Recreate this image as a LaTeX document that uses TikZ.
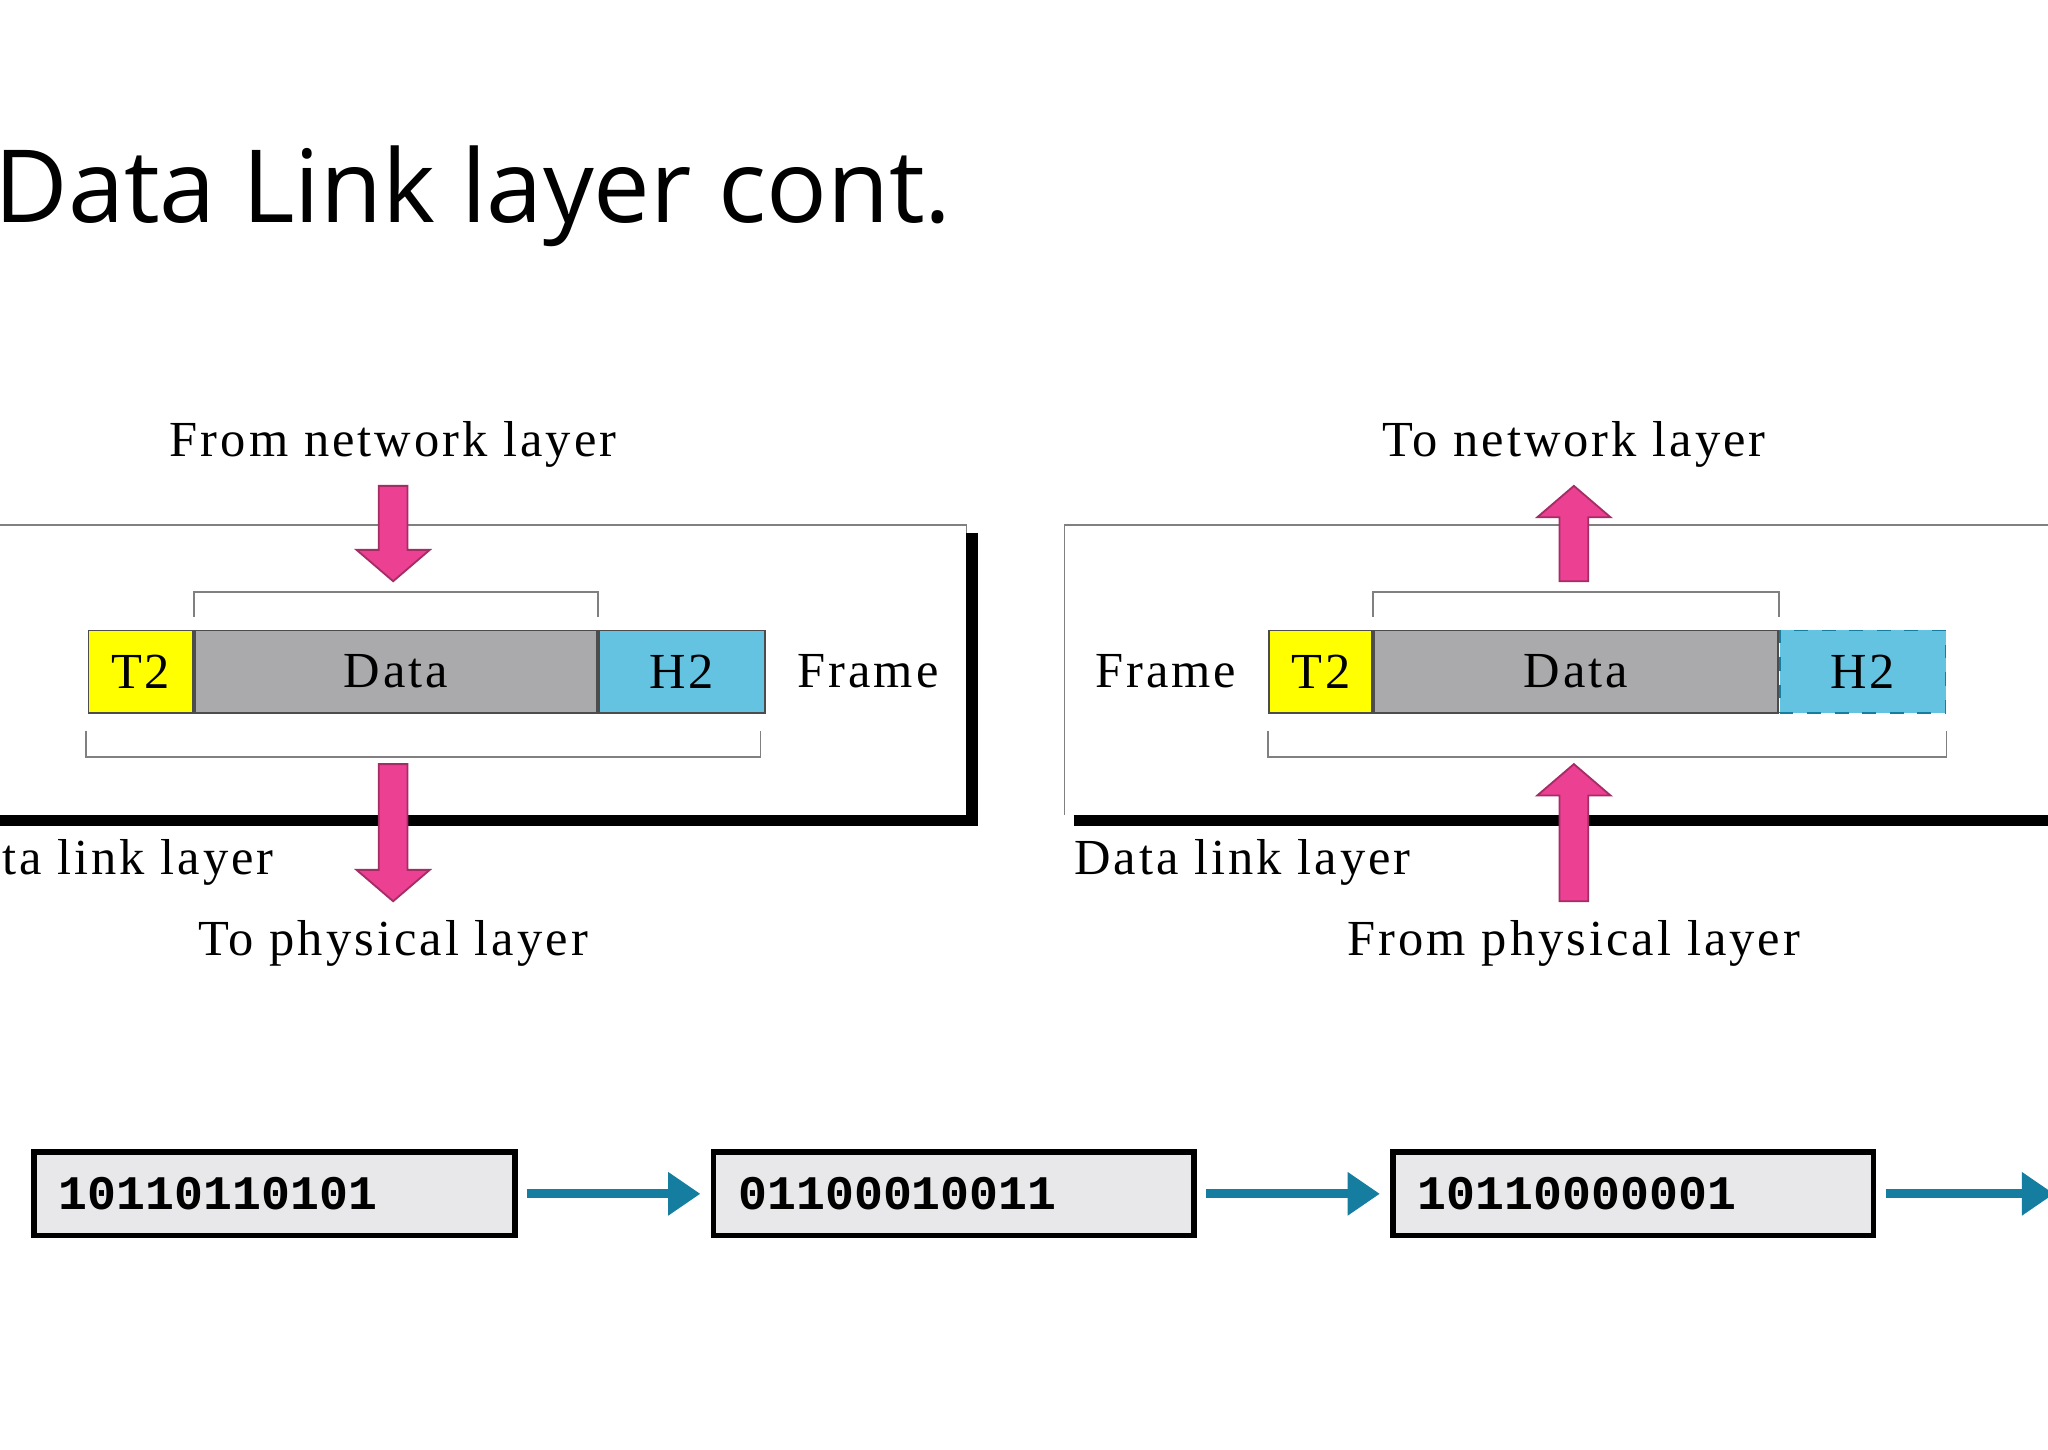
\documentclass[tikz,border=0pt]{standalone}
\usepackage{fontspec}
\setmainfont{Liberation Serif}[LetterSpace=6]
\newfontfamily\titlefont{Open Sans}
\newfontfamily\bitfont{Liberation Mono}
\usetikzlibrary{positioning,calc,arrows.meta}
\definecolor{tyellow}{RGB}{255,255,0}
\definecolor{tgray}{RGB}{170,170,172}
\definecolor{tcyan}{RGB}{100,195,225}
\definecolor{tpink}{RGB}{236,64,146}
\definecolor{tteal}{RGB}{20,125,160}
\definecolor{tbits}{RGB}{232,232,234}
\tikzset{
  fld/.style={draw=black!70, minimum height=0.63cm, inner sep=0pt, font=\fontsize{11}{12}\selectfont},
  lbl/.style={font=\fontsize{11}{12}\selectfont},
  bits/.style={draw, very thick, fill=tbits, minimum width=3.68cm, minimum height=0.64cm, inner sep=0pt,
    text width=3.3cm, font=\bitfont\bfseries\fontsize{10.5}{12}\selectfont},
  pk/.style={fill=tpink, draw=tpink!70!black, thin},
  bitarrow/.style={draw=tteal, line width=2pt, -{Triangle[length=7pt,width=9pt]}}
}
% pink block arrow, from #1 to #2
\newcommand{\blockarrow}[2]{%
  \path[pk] let \p1=(#1), \p2=(#2), \n1={(\y2>\y1 ? 1 : -1)} in
    (\x1-0.11cm,\y1) -- (\x1-0.11cm,\y2-\n1*0.24cm) -- (\x1-0.28cm,\y2-\n1*0.24cm) -- (\x2,\y2)
    -- (\x1+0.28cm,\y2-\n1*0.24cm) -- (\x1+0.11cm,\y2-\n1*0.24cm) -- (\x1+0.11cm,\y1) -- cycle;}
\begin{document}
\begin{tikzpicture}
\useasboundingbox[fill=white] (0,0) rectangle (15.68,11.10);

\node[anchor=base west, inner sep=0pt, font=\titlefont\fontsize{22}{26}\selectfont] (title) at (-0.05,9.40) {Data Link layer cont.};

%% sender side
\draw[gray, thin] (-0.1,7.08) -- (7.40,7.08) -- (7.40,4.82);
\draw[line width=2.5pt] (7.44,7.02) -- (7.44,4.82) -- (-0.1,4.82);
\node[fld, fill=tyellow, minimum width=0.80cm, anchor=north west] (t2a) at (0.67,6.28) {T2};
\node[fld, fill=tgray, minimum width=3.08cm, right=0pt of t2a] (dataa) {Data};
\node[fld, fill=tcyan, minimum width=1.27cm, right=0pt of dataa] (h2a) {H2};
\node[lbl, right=0.12cm of h2a] (framea) {Frame};
\draw[gray] ($(dataa.north west)+(0,0.1)$) -- ++(0,0.19) -| ($(dataa.north east)+(0,0.1)$);
\draw[gray] ($(t2a.south west)+(-0.01,-0.13)$) -- ++(0,-0.2) -| ($(h2a.south east)+(-0.04,-0.13)$);
\node[lbl] (fromnet) at (3.01,7.70) {From network layer};
\node[lbl] (tophy) at (3.01,3.88) {To physical layer};
\node[lbl, anchor=east] (dlla) at (2.22,4.50) {Data link layer};
\coordinate (a1) at (3.01,7.38);
\coordinate (a2) at (3.01,6.65);
\coordinate (a3) at (3.01,5.25);
\coordinate (a4) at (3.01,4.20);
\blockarrow{a1}{a2}
\blockarrow{a3}{a4}

%% receiver side
\draw[gray, thin] (15.8,7.08) -- (8.15,7.08) -- (8.15,4.86);
\draw[line width=2.5pt] (8.22,4.82) -- (15.8,4.82);
\node[fld, fill=tyellow, minimum width=0.79cm, anchor=north west] (t2b) at (9.71,6.28) {T2};
\node[fld, fill=tgray, minimum width=3.09cm, right=0pt of t2b] (datab) {Data};
\node[fld, fill=tcyan, draw=tteal, dashed, minimum width=1.27cm, right=0pt of datab] (h2b) {H2};
\node[lbl, left=0.12cm of t2b] (frameb) {Frame};
\draw[gray] ($(datab.north west)+(0,0.1)$) -- ++(0,0.19) -| ($(datab.north east)+(0,0.1)$);
\draw[gray] ($(t2b.south west)+(0,-0.13)$) -- ++(0,-0.2) -| ($(h2b.south east)+(0,-0.13)$);
\node[lbl] (tonet) at (12.05,7.70) {To network layer};
\node[lbl] (fromphy) at (12.05,3.88) {From physical layer};
\node[lbl, anchor=west] (dllb) at (8.10,4.50) {Data link layer};
\coordinate (b1) at (12.05,6.65);
\coordinate (b2) at (12.05,7.38);
\coordinate (b3) at (12.05,4.20);
\coordinate (b4) at (12.05,5.25);
\blockarrow{b1}{b2}
\blockarrow{b3}{b4}

%% bit stream
\node[bits, anchor=west] (bits1) at (0.24,1.96) {10110110101};
\node[bits, right=1.48cm of bits1] (bits2) {01100010011};
\node[bits, right=1.48cm of bits2] (bits3) {10110000001};
\coordinate[right=1.36cm of bits3.east] (bitsend);
\draw[bitarrow] ([xshift=0.07cm]bits1.east) -- ([xshift=-0.08cm]bits2.west);
\draw[bitarrow] ([xshift=0.07cm]bits2.east) -- ([xshift=-0.08cm]bits3.west);
\draw[bitarrow] ([xshift=0.07cm]bits3.east) -- (bitsend);
\end{tikzpicture}
\end{document}
